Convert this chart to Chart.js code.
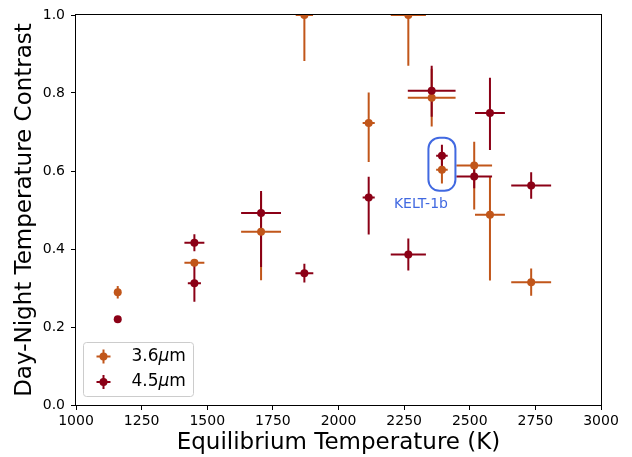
<!DOCTYPE html>
<html>
<head>
<meta charset="utf-8">
<script src="https://cdn.jsdelivr.net/npm/chart.js@4.4.1/dist/chart.umd.min.js"></script>
<style>
  html, body { margin: 0; padding: 0; background: #ffffff; }
  #wrap { width: 632px; height: 457px; }
</style>
</head>
<body>
<div id="wrap"><canvas id="c" width="632" height="457"></canvas></div>
<script>
// Axis ticks
const xTicks = [1000, 1250, 1500, 1750, 2000, 2250, 2500, 2750, 3000];
const yTicks = [0.0, 0.2, 0.4, 0.6, 0.8, 1.0];

// 3.6 micron channel: equilibrium temperature (K), contrast, and uncertainties
const teq36   = [1159, 1451, 1705, 1870, 2115, 2266, 2355, 2394, 2517, 2577, 2734];
const con36   = [0.289, 0.365, 0.444, 1.000, 0.723, 1.000, 0.788, 0.603, 0.614, 0.488, 0.315];
const xErr36  = [0, 38, 76, 33, 23, 67, 91, 22, 68, 57, 76];
const yLo36   = [0.016, 0.008, 0.124, 0.118, 0.100, 0.130, 0.074, 0.035, 0.113, 0.169, 0.035];
const yHi36   = [0.016, 0.008, 0.100, 0.118, 0.078, 0.130, 0.074, 0.030, 0.061, 0.098, 0.035];

// 4.5 micron channel
const teq45   = [1159, 1451, 1451, 1705, 1870, 2115, 2266, 2355, 2394, 2517, 2577, 2734];
const con45   = [0.220, 0.416, 0.312, 0.492, 0.338, 0.532, 0.386, 0.806, 0.639, 0.586, 0.749, 0.563];
const xErr45  = [0, 38, 25, 76, 34, 23, 67, 91, 22, 68, 57, 76];
const yLo45   = [0.000, 0.022, 0.047, 0.138, 0.024, 0.095, 0.041, 0.067, 0.028, 0.030, 0.095, 0.034];
const yHi45   = [0.000, 0.022, 0.047, 0.057, 0.024, 0.053, 0.041, 0.064, 0.028, 0.030, 0.090, 0.034];

// Highlighted planet
const highlightName = 'KELT-1b';
const highlightTeq = 2394;
const highlightIdx36 = 7;
const highlightIdx45 = 8;

const seriesLabels = ['3.6', '4.5'];
const colors = ['#c1561a', '#8b0016'];
const FONT = "'DejaVu Sans', sans-serif";

const series = [
  { x: teq36, y: con36, xe: xErr36, lo: yLo36, hi: yHi36, color: colors[0] },
  { x: teq45, y: con45, xe: xErr45, lo: yLo45, hi: yHi45, color: colors[1] }
];

function toPoints(xs, ys) { return xs.map((v, i) => ({ x: v, y: ys[i] })); }

// Error bars go underneath every marker
const errorBars = {
  id: 'errorBars',
  beforeDatasetsDraw(chart) {
    const { ctx, chartArea: a, scales: { x, y } } = chart;
    ctx.save();
    ctx.beginPath();
    ctx.rect(a.left, a.top, a.right - a.left, a.bottom - a.top);
    ctx.clip();
    ctx.lineWidth = 2;
    ctx.lineCap = 'butt';
    series.forEach(s => {
      ctx.strokeStyle = s.color;
      s.x.forEach((tx, i) => {
        const px = x.getPixelForValue(tx);
        const py = y.getPixelForValue(s.y[i]);
        ctx.beginPath();
        if (s.xe[i] > 0) {
          ctx.moveTo(x.getPixelForValue(tx - s.xe[i]), py);
          ctx.lineTo(x.getPixelForValue(tx + s.xe[i]), py);
        }
        if (s.lo[i] > 0 || s.hi[i] > 0) {
          ctx.moveTo(px, y.getPixelForValue(s.y[i] + s.hi[i]));
          ctx.lineTo(px, y.getPixelForValue(s.y[i] - s.lo[i]));
        }
        ctx.stroke();
      });
    });
    ctx.restore();
  }
};

function drawMicron(ctx, prefix, x, y) {
  ctx.font = `17px ${FONT}`;
  ctx.fillText(prefix, x, y);
  x += ctx.measureText(prefix).width;
  ctx.font = `oblique 17px ${FONT}`;
  ctx.fillText('\u03bc', x, y);
  x += ctx.measureText('\u03bc').width;
  ctx.font = `17px ${FONT}`;
  ctx.fillText('m', x, y);
}

const frameAndNotes = {
  id: 'frameAndNotes',
  afterDraw(chart) {
    const { ctx, chartArea: a, scales: { x, y } } = chart;
    ctx.save();
    // full frame
    ctx.strokeStyle = '#000000';
    ctx.lineWidth = 1;
    const L = Math.round(a.left), T = Math.round(a.top);
    const R = Math.round(a.right), B = Math.round(a.bottom);
    ctx.strokeRect(L - 0.5, T - 0.5, R - L + 1, B - T + 1);

    // highlight box around the two KELT-1b points
    const hx = x.getPixelForValue(highlightTeq);
    const yTop = y.getPixelForValue(con45[highlightIdx45]);
    const yBot = y.getPixelForValue(con36[highlightIdx36]);
    const bx = hx - 13.5, by = yTop - 18, bw = 27, bh = (yBot + 21) - by;
    ctx.strokeStyle = 'royalblue';
    ctx.lineWidth = 2;
    ctx.beginPath();
    ctx.roundRect(bx, by, bw, bh, 11);
    ctx.stroke();
    ctx.fillStyle = 'royalblue';
    ctx.font = `14px ${FONT}`;
    ctx.textAlign = 'center';
    ctx.textBaseline = 'alphabetic';
    ctx.fillText(highlightName, hx - 21, yBot + 38);

    // legend
    const lx = a.left + 7.5, ly = a.bottom - 62.5, lw = 110, lh = 54;
    ctx.fillStyle = 'rgba(255,255,255,0.8)';
    ctx.strokeStyle = '#cccccc';
    ctx.lineWidth = 1;
    ctx.beginPath();
    ctx.roundRect(lx, ly, lw, lh, 3);
    ctx.fill();
    ctx.stroke();
    ctx.textAlign = 'left';
    ctx.textBaseline = 'middle';
    series.forEach((s, k) => {
      const cy = ly + 14 + k * 25.5;
      const cx = lx + 20;
      ctx.strokeStyle = s.color;
      ctx.lineWidth = 2;
      ctx.beginPath();
      ctx.moveTo(cx - 7, cy); ctx.lineTo(cx + 7, cy);
      ctx.moveTo(cx, cy - 7); ctx.lineTo(cx, cy + 7);
      ctx.stroke();
      ctx.fillStyle = s.color;
      ctx.beginPath();
      ctx.arc(cx, cy, 4, 0, Math.PI * 2);
      ctx.fill();
      ctx.fillStyle = '#000000';
      drawMicron(ctx, seriesLabels[k], lx + 48, cy);
    });
    ctx.restore();
  }
};

new Chart(document.getElementById('c'), {
  type: 'scatter',
  data: {
    datasets: [
      { label: '3.6\u03bcm', data: toPoints(teq36, con36), backgroundColor: colors[0],
        borderColor: colors[0], pointRadius: 4, pointBorderWidth: 0, order: 1, clip: 0 },
      { label: '4.5\u03bcm', data: toPoints(teq45, con45), backgroundColor: colors[1],
        borderColor: colors[1], pointRadius: 4, pointBorderWidth: 0, order: 0, clip: 0 }
    ]
  },
  options: {
    responsive: false,
    devicePixelRatio: 1,
    animation: false,
    events: [],
    layout: { padding: { top: 15, right: 31, left: 0, bottom: 0 } },
    plugins: { legend: { display: false }, tooltip: { enabled: false } },
    scales: {
      x: {
        type: 'linear', min: xTicks[0], max: xTicks[xTicks.length - 1],
        afterBuildTicks: s => { s.ticks = xTicks.map(v => ({ value: v })); },
        afterFit: s => { s.height = 52; },
        ticks: { color: '#000000', font: { family: FONT, size: 14 }, padding: 3, maxRotation: 0,
                 callback: v => String(v) },
        grid: { drawOnChartArea: false, drawTicks: true, tickLength: 5, color: '#000000' },
        border: { display: false },
        title: { display: true, text: 'Equilibrium Temperature (K)', color: '#000000',
                 font: { family: FONT, size: 23 }, padding: { top: 0, bottom: 0 } }
      },
      y: {
        type: 'linear', min: yTicks[0], max: yTicks[yTicks.length - 1],
        afterBuildTicks: s => { s.ticks = yTicks.map(v => ({ value: v })); },
        afterFit: s => { s.width = 76; },
        ticks: { color: '#000000', font: { family: FONT, size: 14 }, padding: 6,
                 callback: v => Number(v).toFixed(1) },
        grid: { drawOnChartArea: false, drawTicks: true, tickLength: 5, color: '#000000' },
        border: { display: false },
        title: { display: true, text: 'Day-Night Temperature Contrast', color: '#000000',
                 font: { family: FONT, size: 23 }, padding: { top: 11, bottom: 0 } }
      }
    }
  },
  plugins: [errorBars, frameAndNotes]
});
</script>
</body>
</html>
